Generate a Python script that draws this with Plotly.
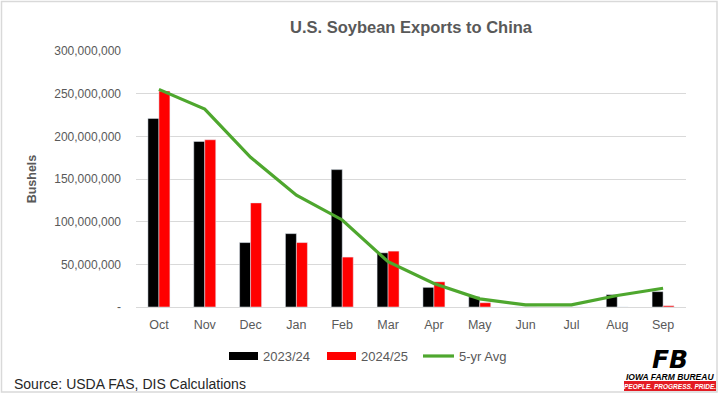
import plotly.graph_objects as go

months = ["Oct", "Nov", "Dec", "Jan", "Feb", "Mar", "Apr", "May", "Jun", "Jul", "Aug", "Sep"]
exports_2023_24 = [221e6, 194e6, 75.5e6, 86e6, 161e6, 63.5e6, 23e6, 12e6, 0, 0, 14.5e6, 18e6]
exports_2024_25 = [253e6, 196e6, 122e6, 75.5e6, 58.5e6, 65.5e6, 29.5e6, 5e6, 0, 0, 0, 1.5e6]
avg_5yr = [255e6, 232e6, 175.5e6, 131e6, 102e6, 53e6, 27.5e6, 9.5e6, 2.5e6, 2.5e6, 13.5e6, 22e6]
ytick_vals = [0, 50e6, 100e6, 150e6, 200e6, 250e6, 300e6]
ytick_text = ["-", "50,000,000", "100,000,000", "150,000,000", "200,000,000", "250,000,000", "300,000,000"]

BLACK = "#000000"
RED = "#ff0000"
GREEN = "#4ea72e"
GRAY = "#595959"
FONT = "Liberation Sans"

fig = go.Figure()
fig.add_trace(go.Bar(x=months, y=exports_2023_24, name="2023/24", marker_color=BLACK, showlegend=False))
fig.add_trace(go.Bar(x=months, y=exports_2024_25, name="2024/25", marker_color=RED, showlegend=False))
fig.add_trace(go.Scatter(x=months, y=avg_5yr, name="5-yr Avg", mode="lines",
                         line=dict(color=GREEN, width=3.2), showlegend=False))

W, H = 720, 394
L, R, T, B = 136, 34, 51, 87
pw, ph = W - L - R, H - T - B


def px(x):
    return (x - L) / pw


def py(y):
    return (H - B - y) / ph


shapes = []
annotations = []

# outer frame
shapes.append(dict(type="rect", xref="paper", yref="paper", x0=px(1.5), x1=px(717), y0=py(1.5), y1=py(392),
                   line=dict(color="#d9d9d9", width=1.5), fillcolor="rgba(0,0,0,0)", layer="below"))

# custom legend
legend_items = [("2023/24", BLACK, "bar", 229, 258, 261),
                ("2024/25", RED, "bar", 327, 356, 359),
                ("5-yr Avg", GREEN, "line", 423, 454, 457)]
for label, col, kind, x0, x1, tx in legend_items:
    if kind == "bar":
        shapes.append(dict(type="rect", xref="paper", yref="paper", x0=px(x0), x1=px(x1),
                           y0=py(360), y1=py(352), fillcolor=col, line=dict(width=0)))
    else:
        shapes.append(dict(type="line", xref="paper", yref="paper", x0=px(x0), x1=px(x1),
                           y0=py(356), y1=py(356), line=dict(color=col, width=3.2)))
    annotations.append(dict(text=label, xref="paper", yref="paper", x=px(tx), y=py(356),
                            xanchor="left", yanchor="middle", showarrow=False,
                            font=dict(family=FONT, size=13, color=GRAY)))

# source
annotations.append(dict(text="Source: USDA FAS, DIS Calculations", xref="paper", yref="paper",
                        x=px(12), y=py(384), xanchor="left", yanchor="middle", showarrow=False,
                        font=dict(family=FONT, size=14, color="#262626")))

# logo
annotations.append(dict(text="<b><i>FB</i></b>", xref="paper", yref="paper", x=px(670), y=py(359),
                        xanchor="center", yanchor="middle", showarrow=False,
                        font=dict(family="DejaVu Sans", size=25, color=BLACK)))
annotations.append(dict(text="<b><i>IOWA FARM BUREAU</i></b>", xref="paper", yref="paper", x=px(670), y=py(376.5),
                        xanchor="center", yanchor="middle", showarrow=False,
                        font=dict(family=FONT, size=8.5, color=BLACK)))
shapes.append(dict(type="rect", xref="paper", yref="paper", x0=px(624), x1=px(716), y0=py(391), y1=py(381),
                   fillcolor="#e31b23", line=dict(width=0)))
annotations.append(dict(text="<b><i>PEOPLE. PROGRESS. PRIDE.</i></b>", xref="paper", yref="paper", x=px(670), y=py(386),
                        xanchor="center", yanchor="middle", showarrow=False,
                        font=dict(family=FONT, size=6.5, color="white")))

fig.update_layout(
    width=W, height=H,
    margin=dict(l=L, r=R, t=T, b=B, pad=0),
    paper_bgcolor="white", plot_bgcolor="white",
    barmode="group", bargap=0.52, bargroupgap=0,
    title=dict(text="<b>U.S. Soybean Exports to China</b>", x=0.5, xanchor="center", xref="paper",
               y=1 - 27 / H, yanchor="middle",
               font=dict(family=FONT, size=16.5, color=GRAY)),
    xaxis=dict(showgrid=False, showline=False, zeroline=False, ticks="", tickfont=dict(family=FONT, size=12.5, color=GRAY),
               ticklabelstandoff=8, domain=[0, 1]),
    yaxis=dict(range=[0, 300e6], tickvals=ytick_vals, ticktext=ytick_text, showgrid=True, gridcolor="#d9d9d9",
               gridwidth=1.3, zeroline=True, zerolinecolor="#d9d9d9", zerolinewidth=1.3, showline=False,
               tickfont=dict(family=FONT, size=12, color=GRAY), ticklabelstandoff=14,
               title=dict(text="<b>Bushels</b>", font=dict(family=FONT, size=12.5, color=GRAY), standoff=14)),
    shapes=shapes, annotations=annotations,
    font=dict(family=FONT),
)

fig.write_html("out.html", config={"displayModeBar": False})
with open("out.html", "r", encoding="utf-8") as f:
    html = f.read()
html = html.replace("<head>", "<head><style>html,body{margin:0;padding:0;overflow:hidden;}</style>", 1)
with open("out.html", "w", encoding="utf-8") as f:
    f.write(html)
